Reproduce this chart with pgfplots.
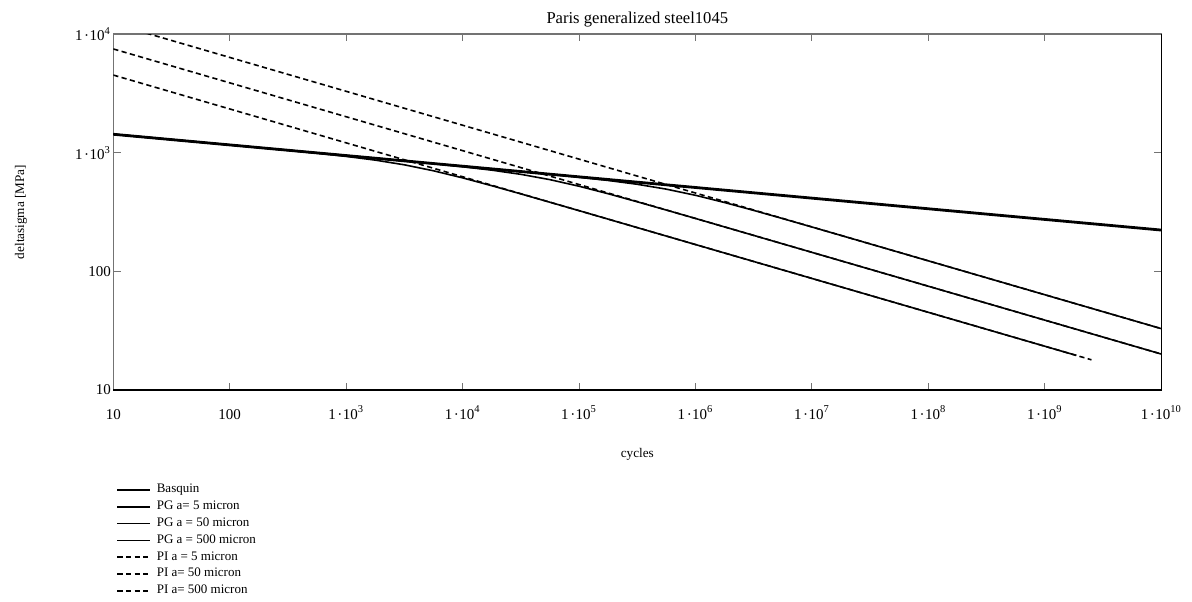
\documentclass[border=0pt]{standalone}
\usepackage{fontspec}
\setmainfont{Liberation Serif}
\usepackage{pgfplots}
\pgfplotsset{compat=1.18}

% tick label like 1·10^3
\newcommand{\pw}[1]{1\kern0.8pt·\kern0.2pt10\textsuperscript{#1}}

\begin{document}
\begin{tikzpicture}
\path[use as bounding box] (0,0) rectangle (596pt,300.5pt);
\begin{axis}[
    at={(56.65pt,105.5pt)}, anchor=south west,
    scale only axis,
    width=524pt, height=178pt,
    xmode=log, ymode=log,
    xmin=10, xmax=1e10,
    ymin=10, ymax=1e4,
    xtick={10,100,1000,1e4,1e5,1e6,1e7,1e8,1e9,1e10},
    xticklabels={10,100,\pw{3},\pw{4},\pw{5},\pw{6},\pw{7},\pw{8},\pw{9},\pw{10}},
    ytick={10,100,1000,1e4},
    yticklabels={10,100,\pw{3},\pw{4}},
    xminorticks=false, yminorticks=false,
    tick align=inside,
    major tick length=3.7pt,
    tick style={black!55, line width=0.5pt},
    axis line style={black!55, line width=0.6pt},
    tick label style={font=\fontsize{7.5}{9}\selectfont},
    xticklabel style={anchor=base, yshift=-14.5pt},
    yticklabel style={anchor=east, inner sep=1pt},
    xlabel={cycles},
    xlabel style={at={(axis description cs:0.5,-0.1882)}, anchor=base, font=\fontsize{6.6}{8}\selectfont},
    ylabel={deltasigma [MPa]},
    ylabel style={at={(axis description cs:-0.0881,0.5)}, anchor=center, font=\fontsize{6.6}{8}\selectfont},
    legend cell align=left,
    legend image code/.code={\draw[#1] (0pt,0pt) -- (16.5pt,0pt);},
    legend style={at={(axis description cs:0.0026,-0.2573)}, anchor=north west,
        draw=none, fill=none, inner sep=0pt, outer sep=0pt, row sep=0pt,
        font=\fontsize{6.5}{7.5}\selectfont,
        nodes={inner sep=0pt, minimum height=8.4pt},
        /tikz/every odd column/.append style={column sep=2.5pt}},
    after end axis/.code={
        \draw[black, line width=0.6pt] (rel axis cs:0,0) -- (rel axis cs:1,0) -- (rel axis cs:1,1);
        \node[anchor=base, inner sep=0pt, font=\fontsize{8.3}{10}\selectfont]
            at (axis description cs:0.5,1.0281) {Paris generalized steel1045};
    },
]
% Basquin
\addplot[black, line width=1.4pt] coordinates {(10,1429) (1e10,222.7)};
% PG a = 5
\addplot[black, line width=0.8pt] coordinates {
    (10,1429) (17783,729.8) (31623,692.6) (56234,656.4) (1e5,620.6)
    (177828,583.2) (316228,541.4) (562341,492.5) (1e6,437.2)
    (1778279,380.0) (3162278,326.1) (5623413,278.0) (1e7,236.3)
    (17782794,200.6) (1e10,32.89)
};
% PG a = 50
\addplot[black, line width=0.8pt] coordinates {
    (10,1429) (1778.3,897.0) (3162.3,851.1) (5623.4,806.1) (1e4,760.9)
    (17783,712.4) (31623,656.9) (56234,592.4) (1e5,521.3)
    (177828,450.6) (316228,385.5) (562341,328.2) (1e6,278.9) (1e10,20.09)
};
% PG a = 500
\addplot[black, line width=0.8pt] coordinates {
    (10,1429) (100,1161.8) (177.83,1102.6) (316.23,1045.2) (562.34,988.8)
    (1000,930.2) (1778.3,865.4) (3162.3,790.0) (5623.4,703.6) (1e4,613.1)
    (17783,526.7) (31623,449.4) (56234,382.1) (1e5,324.5) (1.862e9,19.57)
};
% PI lines
\addplot[black, line width=0.8pt, dash pattern=on 2.6pt off 1.7pt] coordinates {(10,12254) (1e10,32.89)};
\addplot[black, line width=0.8pt, dash pattern=on 2.6pt off 1.7pt] coordinates {(10,7482) (1e10,20.09)};
\addplot[black, line width=0.8pt, dash pattern=on 2.6pt off 1.7pt] coordinates {(10,4508) (2.512e9,17.97)};
\legend{Basquin, PG a= 5 micron, PG a = 50 micron, PG a = 500 micron,
        PI a = 5 micron, PI a= 50 micron, PI a= 500 micron}
\end{axis}
\end{tikzpicture}
\end{document}
